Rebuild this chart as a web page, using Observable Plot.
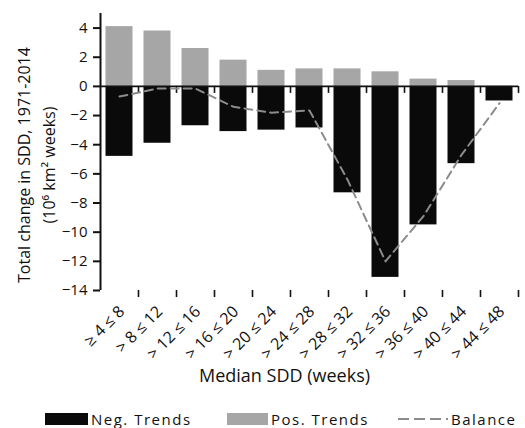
<!DOCTYPE html>
<html>
<head>
<meta charset="utf-8">
<script src="https://cdn.jsdelivr.net/npm/d3@7"></script>
<script src="https://cdn.jsdelivr.net/npm/@observablehq/plot@0.6"></script>
<style>
  html, body { margin: 0; padding: 0; background: #fff; }
  body { width: 525px; height: 428px; overflow: hidden; font-family: "Open Sans", sans-serif; }
  #chart svg { display: block; }
  #legend { position: relative; height: 23px; font-size: 15px; letter-spacing: 1.5px; color: #111; }
  #legend .item { position: absolute; top: 2px; height: 23px; display: flex; align-items: center; white-space: nowrap; }
  #legend .sw { display: inline-block; width: 43px; height: 12px; margin-right: 3px; }
</style>
</head>
<body>
<div id="chart"></div>
<div id="legend"></div>
<script>
const categories = ["≥ 4 ≤ 8", "> 8 ≤ 12", "> 12 ≤ 16", "> 16 ≤ 20", "> 20 ≤ 24", "> 24 ≤ 28",
                    "> 28 ≤ 32", "> 32 ≤ 36", "> 36 ≤ 40", "> 40 ≤ 44", "> 44 ≤ 48"];
const posTrends = [4.1, 3.8, 2.6, 1.8, 1.1, 1.2, 1.2, 1.0, 0.5, 0.4, 0];
const negTrends = [-4.8, -3.9, -2.7, -3.1, -3.0, -2.85, -7.3, -13.1, -9.5, -5.3, -1.0];
const balance   = [-0.7, -0.15, -0.15, -1.4, -1.8, -1.65, -6.4, -12.0, -8.9, -4.7, -1.15];
const yTicks = [-14, -12, -10, -8, -6, -4, -2, 0, 2, 4];
const yDomain = [-14, 5];
const yTitle = "Total change in SDD, 1971-2014\n(10⁶ km² weeks)";
const xTitle = "Median SDD (weeks)";
const legendLabels = ["Neg. Trends", "Pos. Trends", "Balance"];

const rows = categories.map((cat, i) => ({i, cat, pos: posTrends[i], neg: negTrends[i], bal: balance[i]}));
const boundaries = categories.map((_, i) => i + 1);

const negColor = "#0a0a0a", posColor = "#a6a6a6", balColor = "#8c8c8c";

const plot = Plot.plot({
  width: 525,
  height: 405,
  marginLeft: 100,
  marginRight: 7,
  marginTop: 13,
  marginBottom: 115,
  style: {fontFamily: "Open Sans", background: "#fff", color: "#111"},
  x: {domain: [0, categories.length], axis: null},
  y: {domain: yDomain, axis: null},
  marks: [
    Plot.rectY(rows, {x1: "i", x2: d => d.i + 1, y: "pos", fill: posColor, insetLeft: 5.5, insetRight: 5.5}),
    Plot.rectY(rows, {x1: "i", x2: d => d.i + 1, y: "neg", fill: negColor, insetLeft: 5.5, insetRight: 5.5}),
    Plot.ruleY([0], {stroke: "#111", strokeWidth: 1.6}),
    Plot.ruleX(boundaries, {y1: 0, y2: 0, insetBottom: -7, stroke: "#111", strokeWidth: 1.6}),
    Plot.ruleX(boundaries, {y1: yDomain[0], y2: yDomain[0], insetBottom: -7, stroke: "#111", strokeWidth: 1.6}),
    Plot.line(rows, {x: d => d.i + 0.5, y: "bal", stroke: balColor, strokeWidth: 2, strokeDasharray: "8,5", curve: "linear"}),
    Plot.ruleX([0], {y1: yDomain[0], y2: yDomain[1], stroke: "#111", strokeWidth: 2}),
    Plot.axisY({ticks: yTicks, tickSize: 7, tickPadding: 6, fontSize: 15, label: null, strokeWidth: 2}),
    Plot.text(rows, {x: d => d.i + 0.5, y: yDomain[0], text: "cat", rotate: -45, textAnchor: "end",
                     lineAnchor: "bottom", dx: 6, dy: 22, fontSize: 16, fill: "#111", letterSpacing: 1}),
    Plot.text([xTitle], {frameAnchor: "bottom", dx: -25, dy: 91, fontSize: 18, fill: "#111", letterSpacing: 1.6}),
    Plot.text([yTitle], {frameAnchor: "left", textAnchor: "middle", rotate: -90, dx: -66, dy: 13, fontSize: 16,
                         lineHeight: 1.6, fill: "#111", letterSpacing: 1})
  ]
});
document.getElementById("chart").append(plot);

const legend = document.getElementById("legend");
const items = [
  {left: 45, html: `<span class="sw" style="background:${negColor}"></span>`},
  {left: 227, html: `<span class="sw" style="background:${posColor};width:41px"></span>`},
  {left: 398, html: `<svg width="50" height="12" style="margin-right:3px"><line x1="0" x2="50" y1="6" y2="6" stroke="${balColor}" stroke-width="2" stroke-dasharray="11,5"/></svg>`}
];
items.forEach((it, k) => {
  const d = document.createElement("div");
  d.className = "item";
  d.style.left = it.left + "px";
  d.innerHTML = it.html + `<span>${legendLabels[k]}</span>`;
  legend.append(d);
});
</script>
</body>
</html>
